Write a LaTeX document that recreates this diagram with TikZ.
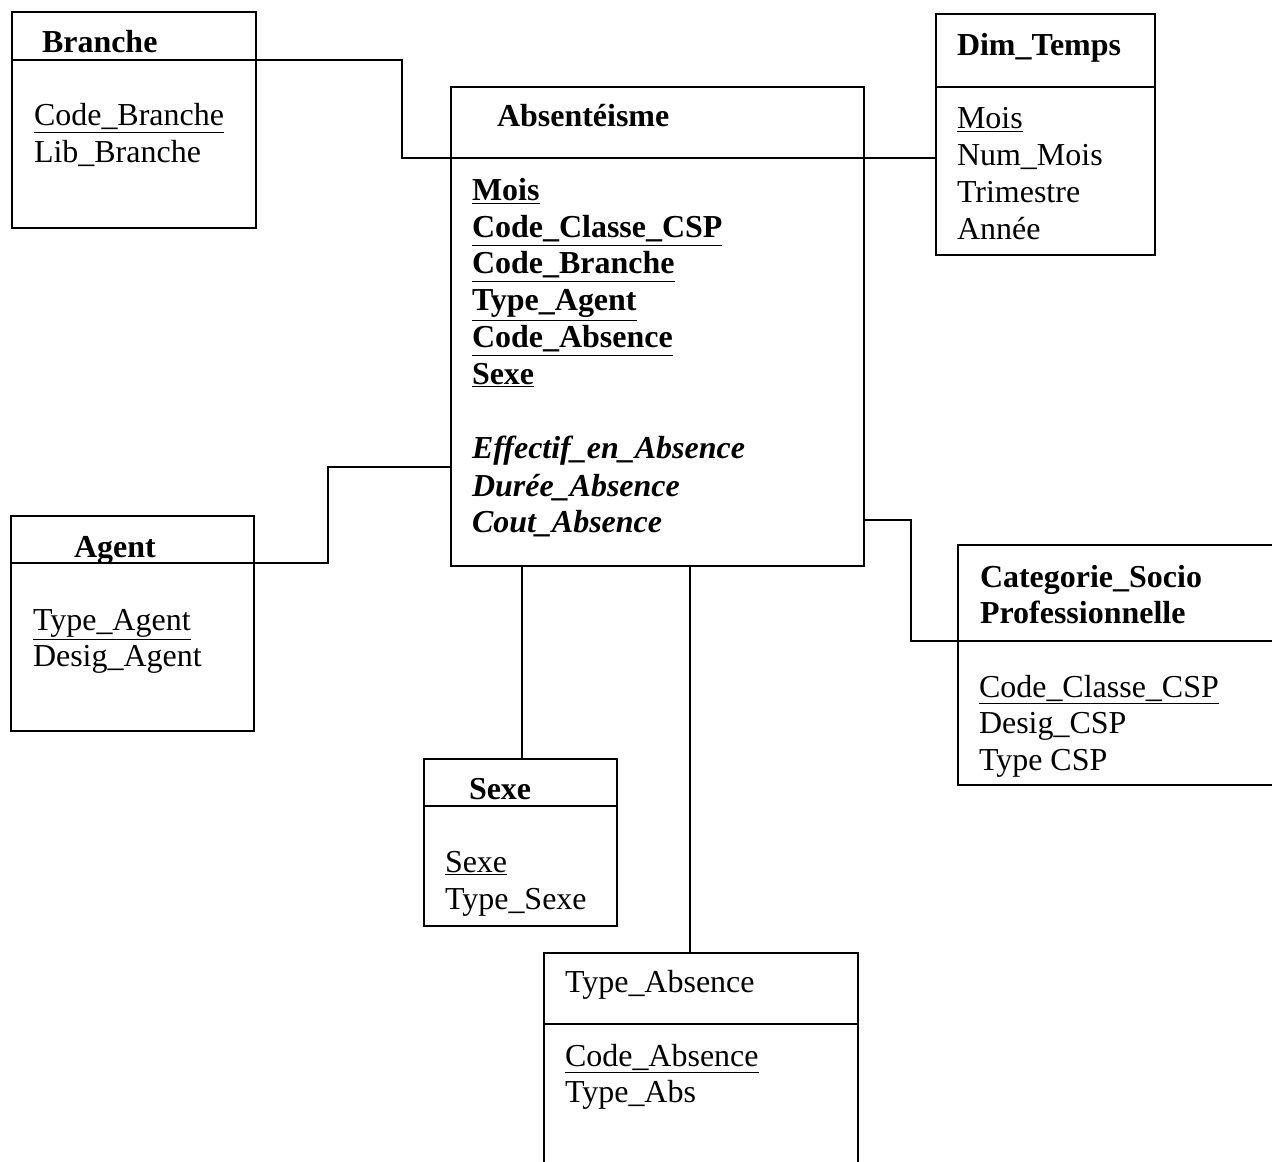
\documentclass[tikz,border=0pt]{standalone}
\usepackage{fontspec}
\setmainfont{Liberation Serif}
\def\px{0.02cm}

\begin{document}
\begin{tikzpicture}[x=\px,y=-\px,line width=1.1pt,
  font=\fontsize{18.2}{21}\selectfont,
  box/.style={draw,inner sep=0,outer sep=0,anchor=north west},
  txt/.style={anchor=base west,inner sep=0,outer sep=0},
  hdr/.style={txt,font=\fontsize{18.2}{21}\selectfont\bfseries},
  msr/.style={txt,font=\fontsize{18.2}{21}\selectfont\bfseries\itshape}]
  \useasboundingbox (0,0) rectangle (1272,1162);
  \clip (0,0) rectangle (1272,1162);
  % tables
  \node[box,minimum width=244*\px,minimum height=216*\px] (branche) at (12,12) {};
  \node[box,minimum width=413*\px,minimum height=479*\px] (fact) at (451,87) {};
  \node[box,minimum width=219*\px,minimum height=241*\px] (temps) at (936,14) {};
  \node[box,minimum width=243*\px,minimum height=215*\px] (agent) at (11,516) {};
  \node[box,minimum width=340*\px,minimum height=240*\px] (csp) at (958,545) {};
  \node[box,minimum width=193*\px,minimum height=167*\px] (sexe) at (424,759) {};
  \node[box,minimum width=314*\px,minimum height=240*\px] (tabs) at (544,953) {};
  % header lines
  \coordinate (br-h) at (0,60);
  \coordinate (fa-h) at (0,158);
  \coordinate (te-h) at (0,87);
  \coordinate (ag-h) at (0,563);
  \coordinate (cs-h) at (0,641);
  \coordinate (se-h) at (0,806);
  \coordinate (ta-h) at (0,1024);
  \draw (branche.west |- br-h) -- (branche.east |- br-h);
  \draw (fact.west |- fa-h) -- (fact.east |- fa-h);
  \draw (temps.west |- te-h) -- (temps.east |- te-h);
  \draw (agent.west |- ag-h) -- (agent.east |- ag-h);
  \draw (csp.west |- cs-h) -- (csp.east |- cs-h);
  \draw (sexe.west |- se-h) -- (sexe.east |- se-h);
  \draw (tabs.west |- ta-h) -- (tabs.east |- ta-h);
  % links
  \coordinate (fa-ag) at (0,467);
  \coordinate (fa-cs) at (0,520);
  \coordinate (fa-se) at (522,0);
  \coordinate (fa-ta) at (690,0);
  \draw (branche.east |- br-h) -- ++(146,0) |- (fact.west |- fa-h);
  \draw (fact.east |- fa-h) -- (temps.west |- fa-h);
  \draw (agent.east |- ag-h) -- ++(74,0) |- (fact.west |- fa-ag);
  \draw (fact.east |- fa-cs) -- ++(47,0) |- (csp.west |- cs-h);
  \draw (fact.south -| fa-se) -- (sexe.north -| fa-se);
  \draw (fact.south -| fa-ta) -- (tabs.north -| fa-ta);
  % Branche
  \node[hdr] (br-t) at (42,53) {Branche};
  \node[txt] (br-1) at (34,126) {\underline{Code\_Branche}};
  \node[txt] (br-2) at (34,163) {Lib\_Branche};
  % Absenteisme
  \node[hdr] (fa-t) at (497,127) {Absentéisme};
  \node[hdr] (fa-1) at (472,201) {\underline{Mois}};
  \node[hdr] (fa-2) at (472,238) {\underline{Code\_Classe\_CSP}};
  \node[hdr] (fa-3) at (472,274) {\underline{Code\_Branche}};
  \node[hdr] (fa-4) at (472,311) {\underline{Type\_Agent}};
  \node[hdr] (fa-5) at (472,348) {\underline{Code\_Absence}};
  \node[hdr] (fa-6) at (472,384) {\underline{Sexe}};
  \node[msr] (fa-7) at (472,459) {Effectif\_en\_Absence};
  \node[msr] (fa-8) at (472,496) {Durée\_Absence};
  \node[msr] (fa-9) at (472,532) {Cout\_Absence};
  % Dim_Temps
  \node[hdr] (te-t) at (957,56) {Dim\_Temps};
  \node[txt] (te-1) at (957,129) {\underline{Mois}};
  \node[txt] (te-2) at (957,166) {Num\_Mois};
  \node[txt] (te-3) at (957,203) {Trimestre};
  \node[txt] (te-4) at (957,240) {Année};
  % Agent
  \node[hdr] (ag-t) at (74,557) {Agent};
  \node[txt] (ag-1) at (33,630) {\underline{Type\_Agent}};
  \node[txt] (ag-2) at (33,666) {Desig\_Agent};
  % Categorie
  \node[hdr] (cs-t1) at (980,587) {Categorie\_Socio};
  \node[hdr] (cs-t2) at (980,623) {Professionnelle};
  \node[txt] (cs-1) at (979,697) {\underline{Code\_Classe\_CSP}};
  \node[txt] (cs-2) at (979,733) {Desig\_CSP};
  \node[txt] (cs-3) at (979,770) {Type CSP};
  % Sexe
  \node[hdr] (se-t) at (469,799) {Sexe};
  \node[txt] (se-1) at (445,872) {\underline{Sexe}};
  \node[txt] (se-2) at (445,909) {Type\_Sexe};
  % Type_Absence
  \node[txt] (ta-t) at (565,992) {Type\_Absence};
  \node[txt] (ta-1) at (565,1066) {\underline{Code\_Absence}};
  \node[txt] (ta-2) at (565,1102) {Type\_Abs};
\end{tikzpicture}
\end{document}
